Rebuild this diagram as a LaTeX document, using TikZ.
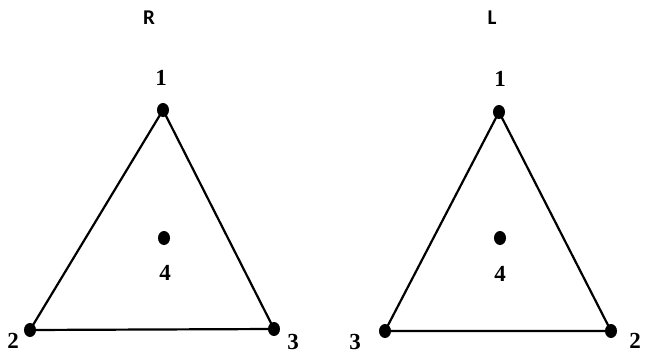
\documentclass[tikz,border=0pt]{standalone}
\usepackage{fontspec}
\setmainfont{Liberation Serif}
\newfontfamily\headfont{Carlito}
\usetikzlibrary{shapes.geometric}
\begin{document}
\begin{tikzpicture}[x=1pt,y=-1pt,
  dot/.style={ellipse,fill=black,minimum width=12pt,minimum height=14pt,inner sep=0pt,outer sep=0pt},
  num/.style={font=\fontsize{23}{23}\selectfont\bfseries,inner sep=0pt},
  head/.style={font=\headfont\fontsize{21}{21}\selectfont\bfseries,inner sep=0pt},
  edge/.style={line width=2.2pt}]
\useasboundingbox (0,0) rectangle (651,353);
% left triangle (R)
\node[head] (R) at (149,18) {R};
\node[dot] (a1) at (163,110) {};
\node[dot] (a2) at (30,330) {};
\node[dot] (a3) at (274,329) {};
\node[dot] (a4) at (164,238) {};
\node[num] (la1) at (161,78) {1};
\node[num] (la2) at (13,341) {2};
\node[num] (la3) at (293,342) {3};
\node[num] (la4) at (165,273) {4};
\draw[edge] (a1.center) -- (a2.center) -- (a3.center) -- cycle;
% right triangle (L)
\node[head] (L) at (492,18) {L};
\node[dot] (b1) at (499,112) {};
\node[dot] (b3) at (385,331) {};
\node[dot] (b2) at (611,331) {};
\node[dot] (b4) at (500,238) {};
\node[num] (lb1) at (500,79) {1};
\node[num] (lb3) at (355,342) {3};
\node[num] (lb2) at (635,341) {2};
\node[num] (lb4) at (500,274) {4};
\draw[edge] (b1.center) -- (b3.center) -- (b2.center) -- cycle;
\end{tikzpicture}
\end{document}
